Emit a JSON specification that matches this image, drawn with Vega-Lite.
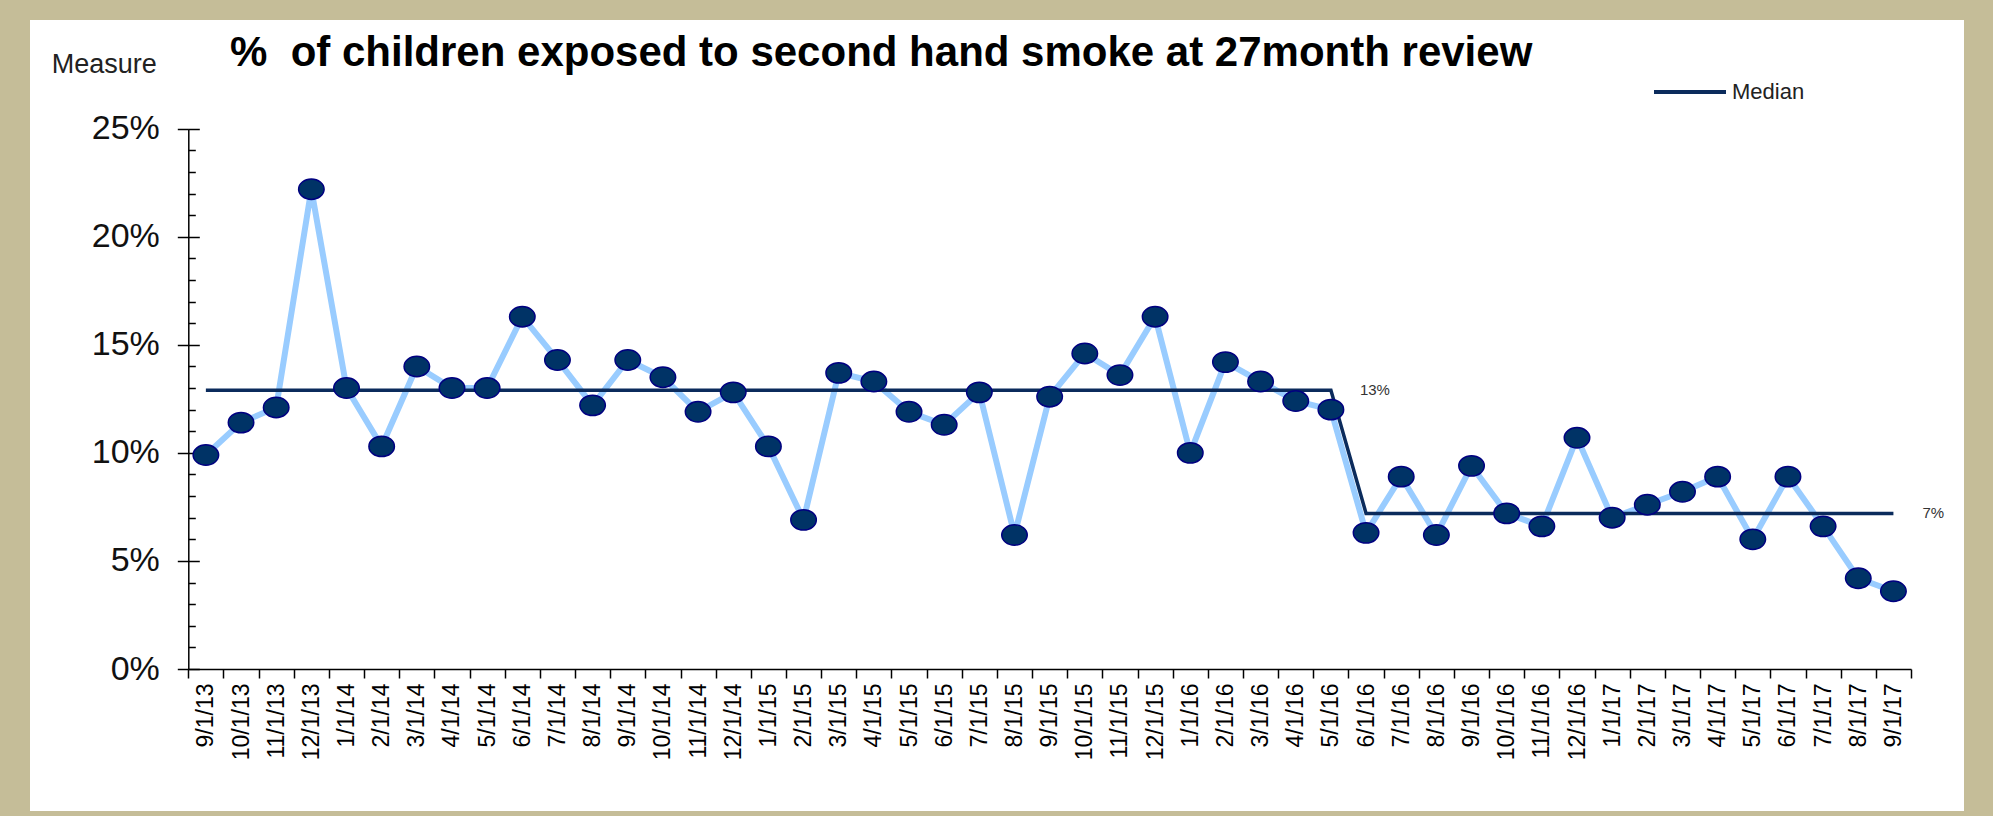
{
  "$schema": "https://vega.github.io/schema/vega-lite/v6.json",
  "width": 1934,
  "height": 791,
  "autosize": {"type": "none"},
  "padding": {"left": 30, "top": 20, "right": 29, "bottom": 5},
  "background": "#C5BD98",
  "view": {"fill": "white", "stroke": null},
  "config": {"font": "Liberation Sans"},
  "title": {
    "text": "%\u00a0 of children exposed to second hand smoke at 27month review",
    "anchor": "start",
    "frame": "group",
    "dx": 200,
    "dy": 88,
    "offset": 0,
    "baseline": "alphabetic",
    "fontSize": 42,
    "fontWeight": "bold",
    "font": "Liberation Sans",
    "color": "#000000"
  },
  "datasets": {
    "series": [
      {"date": "9/1/13", "value": 0.099, "median": 0.129},
      {"date": "10/1/13", "value": 0.114, "median": 0.129},
      {"date": "11/1/13", "value": 0.121, "median": 0.129},
      {"date": "12/1/13", "value": 0.222, "median": 0.129},
      {"date": "1/1/14", "value": 0.130, "median": 0.129},
      {"date": "2/1/14", "value": 0.103, "median": 0.129},
      {"date": "3/1/14", "value": 0.140, "median": 0.129},
      {"date": "4/1/14", "value": 0.130, "median": 0.129},
      {"date": "5/1/14", "value": 0.130, "median": 0.129},
      {"date": "6/1/14", "value": 0.163, "median": 0.129},
      {"date": "7/1/14", "value": 0.143, "median": 0.129},
      {"date": "8/1/14", "value": 0.122, "median": 0.129},
      {"date": "9/1/14", "value": 0.143, "median": 0.129},
      {"date": "10/1/14", "value": 0.135, "median": 0.129},
      {"date": "11/1/14", "value": 0.119, "median": 0.129},
      {"date": "12/1/14", "value": 0.128, "median": 0.129},
      {"date": "1/1/15", "value": 0.103, "median": 0.129},
      {"date": "2/1/15", "value": 0.069, "median": 0.129},
      {"date": "3/1/15", "value": 0.137, "median": 0.129},
      {"date": "4/1/15", "value": 0.133, "median": 0.129},
      {"date": "5/1/15", "value": 0.119, "median": 0.129},
      {"date": "6/1/15", "value": 0.113, "median": 0.129},
      {"date": "7/1/15", "value": 0.128, "median": 0.129},
      {"date": "8/1/15", "value": 0.062, "median": 0.129},
      {"date": "9/1/15", "value": 0.126, "median": 0.129},
      {"date": "10/1/15", "value": 0.146, "median": 0.129},
      {"date": "11/1/15", "value": 0.136, "median": 0.129},
      {"date": "12/1/15", "value": 0.163, "median": 0.129},
      {"date": "1/1/16", "value": 0.100, "median": 0.129},
      {"date": "2/1/16", "value": 0.142, "median": 0.129},
      {"date": "3/1/16", "value": 0.133, "median": 0.129},
      {"date": "4/1/16", "value": 0.124, "median": 0.129},
      {"date": "5/1/16", "value": 0.120, "median": 0.129},
      {"date": "6/1/16", "value": 0.063, "median": 0.072},
      {"date": "7/1/16", "value": 0.089, "median": 0.072},
      {"date": "8/1/16", "value": 0.062, "median": 0.072},
      {"date": "9/1/16", "value": 0.094, "median": 0.072},
      {"date": "10/1/16", "value": 0.072, "median": 0.072},
      {"date": "11/1/16", "value": 0.066, "median": 0.072},
      {"date": "12/1/16", "value": 0.107, "median": 0.072},
      {"date": "1/1/17", "value": 0.070, "median": 0.072},
      {"date": "2/1/17", "value": 0.076, "median": 0.072},
      {"date": "3/1/17", "value": 0.082, "median": 0.072},
      {"date": "4/1/17", "value": 0.089, "median": 0.072},
      {"date": "5/1/17", "value": 0.060, "median": 0.072},
      {"date": "6/1/17", "value": 0.089, "median": 0.072},
      {"date": "7/1/17", "value": 0.066, "median": 0.072},
      {"date": "8/1/17", "value": 0.042, "median": 0.072},
      {"date": "9/1/17", "value": 0.036, "median": 0.072}
    ],
    "medianLabels": [
      {"date": "5/1/16", "median": 0.129},
      {"date": "9/1/17", "median": 0.072}
    ]
  },
  "data": {"name": "series"},
  "encoding": {
    "x": {
      "field": "date",
      "type": "ordinal",
      "sort": null,
      "scale": {"type": "band", "range": [158.3, 1881], "paddingInner": 0, "paddingOuter": 0},
      "axis": {
        "title": null,
        "offset": -142,
        "tickBand": "extent",
        "tickSize": 9,
        "tickColor": "#000000",
        "tickWidth": 1.5,
        "domainColor": "#000000",
        "domainWidth": 1.5,
        "labelAngle": -90,
        "labelFontSize": 23,
        "labelColor": "#000000",
        "labelPadding": 5,
        "labelOverlap": false,
        "labelFont": "Liberation Sans"
      }
    }
  },
  "layer": [
    {
      "mark": {"type": "line", "color": "#99CCFF", "strokeWidth": 6},
      "encoding": {
        "y": {
          "field": "value",
          "type": "quantitative",
          "scale": {"domain": [0, 0.25], "range": [649, 108.7], "nice": false, "zero": true},
          "axis": {
            "orient": "left",
            "offset": -158.3,
            "values": [0, 0.05, 0.1, 0.15, 0.2, 0.25],
            "format": ".0%",
            "grid": false,
            "tickSize": 11,
            "tickColor": "#000000",
            "tickWidth": 1.5,
            "domainColor": "#000000",
            "domainWidth": 1.5,
            "labelFontSize": 34,
            "labelColor": "#111111",
            "labelPadding": 18,
            "labelFont": "Liberation Sans",
            "title": "Measure",
            "titleAngle": 0,
            "titleAlign": "left",
            "titleBaseline": "middle",
            "titleX": -137,
            "titleY": 44,
            "titleFontSize": 27,
            "titleFontWeight": "normal",
            "titleColor": "#222222",
            "titleFont": "Liberation Sans"
          }
        }
      }
    },
    {
      "mark": {"type": "line", "strokeWidth": 3.5},
      "encoding": {
        "y": {
          "field": "median",
          "type": "quantitative",
          "scale": {"domain": [0, 0.25], "range": [649, 108.7], "nice": false},
          "axis": {
            "orient": "right",
            "offset": -1775.7,
            "values": [0.01, 0.02, 0.03, 0.04, 0.06, 0.07, 0.08, 0.09, 0.11, 0.12, 0.13, 0.14, 0.16, 0.17, 0.18, 0.19, 0.21, 0.22, 0.23, 0.24],
            "labels": false,
            "domain": false,
            "grid": false,
            "tickSize": 7,
            "tickColor": "#000000",
            "tickWidth": 1.5,
            "title": null
          }
        },
        "color": {
          "datum": "Median",
          "type": "nominal",
          "scale": {"range": ["#0B2B5C"]},
          "legend": {
            "orient": "none",
            "legendX": 1622,
            "legendY": 34,
            "title": null,
            "padding": 0,
            "symbolType": "stroke",
            "symbolSize": 5184,
            "symbolStrokeWidth": 4,
            "labelFontSize": 22,
            "labelOffset": 4,
            "labelColor": "#222222",
            "labelFont": "Liberation Sans"
          }
        }
      }
    },
    {
      "mark": {
        "type": "point",
        "shape": "M-1,0A1,0.8,0,1,0,1,0A1,0.8,0,1,0,-1,0Z",
        "size": 650,
        "filled": true,
        "fill": "#003366",
        "stroke": "#000080",
        "strokeWidth": 1.5,
        "opacity": 1
      },
      "encoding": {
        "y": {
          "field": "value",
          "type": "quantitative",
          "scale": {"domain": [0, 0.25], "range": [649, 108.7], "nice": false},
          "axis": {
            "orient": "right",
            "offset": -1775.7,
            "values": [0, 0.05, 0.1, 0.15, 0.2, 0.25],
            "labels": false,
            "domain": false,
            "grid": false,
            "tickSize": 11,
            "tickColor": "#000000",
            "tickWidth": 1.5,
            "title": null
          }
        }
      }
    },
    {
      "data": {"name": "medianLabels"},
      "mark": {"type": "text", "align": "left", "baseline": "middle", "dx": 29, "fontSize": 15, "color": "#333333", "font": "Liberation Sans"},
      "encoding": {
        "y": {
          "field": "median",
          "type": "quantitative",
          "scale": {"domain": [0, 0.25], "range": [649, 108.7], "nice": false},
          "axis": null
        },
        "text": {"field": "median", "type": "quantitative", "format": ".0%"}
      }
    }
  ],
  "resolve": {"axis": {"y": "independent"}}
}
